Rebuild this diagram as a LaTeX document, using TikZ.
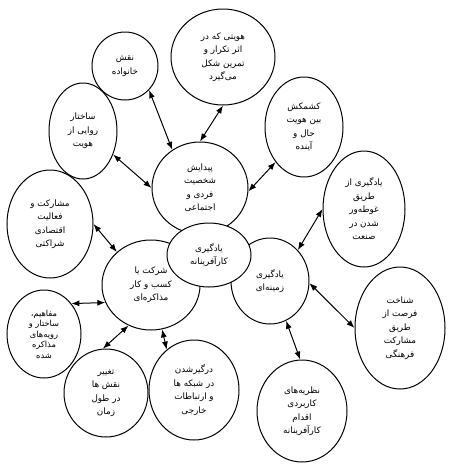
\documentclass[tikz,border=0pt]{standalone}
\usepackage{fontspec}
\newfontfamily\farsifont[Script=Arabic]{DejaVu Sans}
\TeXXeTstate=1
\usetikzlibrary{shapes.geometric,arrows.meta}
\newcommand\fa[1]{\beginR #1\endR}

\begin{document}
\begin{tikzpicture}[x=1pt,y=-1pt,
  bubble/.style={draw,ellipse,fill=white,line width=1pt,inner sep=0pt,align=center,
    font=\farsifont\fontsize{8.8}{13.5}\selectfont},
  link/.style={<->,>={Latex[length=8pt,width=6pt]},line width=1pt}]

\useasboundingbox (0,0) rectangle (450,466);

% draw the outer bubbles
\node [bubble, minimum width=66pt, minimum height=68pt] (family) at (125,66)
  {\fa{نقش}\\\fa{خانواده}};
\node [bubble, minimum width=104pt, minimum height=96pt] (habit) at (223,57)
  {\fa{هویتی که در}\\\fa{اثر تکرار و}\\\fa{تمرین شکل}\\\fa{می^^^^200cگیرد}};
\node [bubble, minimum width=68pt, minimum height=96pt] (narrative) at (83,131)
  {\fa{ساختار}\\\fa{روایی از}\\\fa{هویت}};
\node [bubble, minimum width=78pt, minimum height=100pt] (conflict) at (304,127)
  {\fa{کشمکش}\\\fa{بین هویت}\\\fa{حال و}\\\fa{آینده}};
\node [bubble, minimum width=96pt, minimum height=92pt] (persona) at (200,188)
  {\fa{پیدایش}\\\fa{شخصیت}\\\fa{فردی و}\\\fa{اجتماعی}};
\node [bubble, minimum width=86pt, minimum height=108pt] (partner) at (50,224)
  {\fa{مشارکت و}\\\fa{فعالیت}\\\fa{اقتصادی}\\\fa{شراکتی}};
\node [bubble, minimum width=82pt, minimum height=116pt] (immerse) at (364,209)
  {\fa{یادگیری از}\\\fa{طریق}\\\fa{غوطه^^^^200cور}\\\fa{شدن در}\\\fa{صنعت}};
\node [bubble, minimum width=98pt, minimum height=90pt] (firm) at (151,285)
  {\fa{شرکت یا}\\\fa{کسب و کار}\\\fa{مذاکره^^^^200cای}};
\node [bubble, minimum width=78pt, minimum height=86pt] (context) at (270,281)
  {\fa{یادگیری}\\\fa{زمینه^^^^200cای}};
\node [bubble, minimum width=74pt, minimum height=88pt, font=\farsifont\fontsize{8.3}{10.5}\selectfont] (concepts) at (44,334)
  {\fa{مفاهیم،}\\\fa{ساختار و}\\\fa{رویه^^^^200cهای}\\\fa{مذاکره}\\\fa{شده}};
\node [bubble, minimum width=84pt, minimum height=88pt] (roles) at (106,393)
  {\fa{تغییر}\\\fa{نقش ها}\\\fa{در طول}\\\fa{زمان}};
\node [bubble, minimum width=90pt, minimum height=100pt] (network) at (194,390)
  {\fa{درگیرشدن}\\\fa{در شبکه ها}\\\fa{و ارتباطات}\\\fa{خارجی}};
\node [bubble, minimum width=90pt, minimum height=102pt] (theories) at (302,411)
  {\fa{نظریه^^^^200cهای}\\\fa{کاربردی}\\\fa{اقدام}\\\fa{کارآفرینانه}};
\node [bubble, minimum width=90pt, minimum height=122pt] (culture) at (400,328)
  {\fa{شناخت}\\\fa{فرصت از}\\\fa{طریق}\\\fa{مشارکت}\\\fa{فرهنگی}};

% the core bubble sits on top
\node [bubble, minimum width=84pt, minimum height=64pt] (core) at (209,255)
  {\fa{یادگیری}\\\fa{کارآفرینانه}};

% draw the links
\foreach \a/\aa/\b/\bb in {
  family/-45/persona/126, habit/-90/persona/90, narrative/-38/persona/180,
  conflict/-129/persona/-4, partner/0/firm/136, concepts/48/firm/-159,
  roles/94/firm/-119, network/124/firm/-76, immerse/180/context/48,
  culture/180/context/-3, theories/92/context/-68}
\draw [link] (\a.\aa) -- (\b.\bb);

\end{tikzpicture}
\end{document}
